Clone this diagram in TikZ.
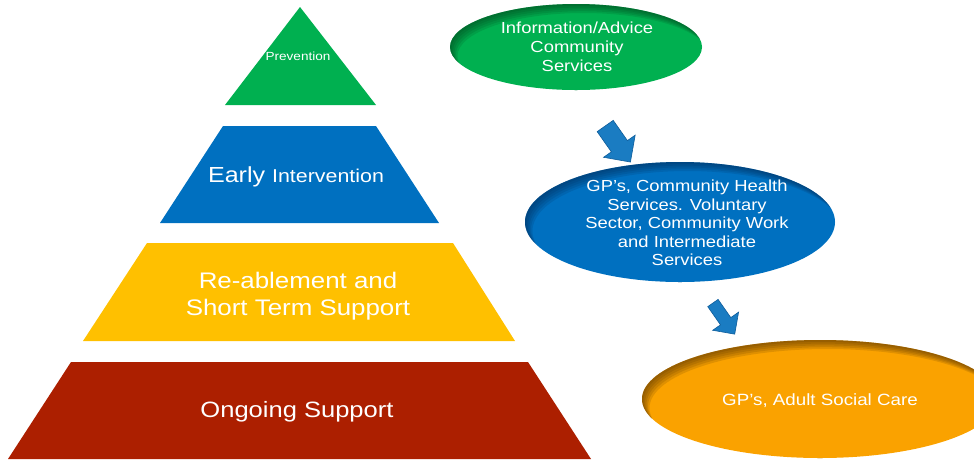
\documentclass[tikz,border=0pt]{standalone}
\usepackage{fontspec}
\setmainfont{Liberation Sans}[FakeStretch=1.15]
\usetikzlibrary{shapes.geometric,shapes.arrows,calc}

\definecolor{pgreen}{HTML}{00B050}
\definecolor{pblue}{HTML}{0070C0}
\definecolor{pyellow}{HTML}{FFC000}
\definecolor{pred}{HTML}{AC1F00}
\definecolor{egreen}{HTML}{00B050}
\definecolor{edgreen}{HTML}{00401A}
\definecolor{eblue}{HTML}{0070C0}
\definecolor{edblue}{HTML}{002A55}
\definecolor{eorange}{HTML}{FAA200}
\definecolor{edorange}{HTML}{4A2A00}
\definecolor{arrowfill}{HTML}{1A7CC2}
\definecolor{arrowedge}{HTML}{0E5C9A}

\begin{document}
\begin{tikzpicture}[x=1pt,y=-1pt,
  lbl/.style={text=white, align=center, inner sep=0pt},
  ell/.style={ellipse, inner sep=0pt},
  % soft inner shadow: stacked crescents along the upper-left rim
  ishadow/.style={path picture={
    \foreach \s in {1,2,3,4,5}{
      \fill[#1, opacity=0.15, even odd rule]
        let \p1=(path picture bounding box.north east),
            \p2=(path picture bounding box.south west) in
        (path picture bounding box.south west) rectangle (path picture bounding box.north east)
        ($(path picture bounding box.center)+(\s*1.5,\s*1.8)$)
        ellipse [x radius={(\x1-\x2)/2}, y radius={(\y1-\y2)/2}];
    }}},
  barrow/.style={single arrow, draw=arrowedge, fill=arrowfill,
    line width=0.6pt, inner xsep=0pt, single arrow tip angle=90,
    rotate=-55, minimum width=0pt}
]
\useasboundingbox (0,0) rectangle (974,459);

% pyramid levels
\fill[pgreen] (300,7) -- (376,105) -- (225,105) -- cycle;
\node[lbl, font=\fontsize{11.8}{13}\selectfont] (prev) at (298,56) {Prevention};

\fill[pblue] (223,126) -- (376,126) -- (439,223) -- (160,223) -- cycle;
\node[lbl] (early) at (296,177)
  {\fontsize{21.8}{24}\selectfont Early \fontsize{18.6}{20}\selectfont Intervention};

\fill[pyellow] (147,243) -- (453,243) -- (515,341) -- (83,341) -- cycle;
\node[lbl, font=\fontsize{22.5}{27}\selectfont] (reab) at (298,296)
  {Re-ablement and\\Short Term Support};

\fill[pred] (71,362) -- (528,362) -- (591,459) -- (8,459) -- cycle;
\node[lbl, font=\fontsize{22.2}{25}\selectfont] (ongo) at (297,412) {Ongoing Support};

% service ellipses
\node[ell, fill=egreen, ishadow=edgreen, minimum width=252pt, minimum height=86pt]
  (info) at (576,47) {};
\node[lbl, font=\fontsize{16}{19}\selectfont] (infot) at (577,47)
  {Information/Advice\\Community\\Services};

\node[ell, fill=eblue, ishadow=edblue, minimum width=310pt, minimum height=120pt]
  (gps) at (680,222) {};
\node[lbl, font=\fontsize{16}{18.5}\selectfont] (gpst) at (687,223)
  {GP’s, Community Health\\Services. Voluntary\\Sector, Community Work\\and Intermediate\\Services};

\node[ell, fill=eorange, ishadow=edorange, minimum width=356pt, minimum height=118pt]
  (asc) at (820,399) {};
\node[lbl, font=\fontsize{16.3}{18}\selectfont] (asct) at (820,401) {GP’s, Adult Social Care};

% block arrows between the ellipses
\node[barrow, minimum height=44pt, inner ysep=9.5pt, single arrow head extend=9.5pt]
  (arrA) at (615,140) {};
\node[barrow, minimum height=38pt, inner ysep=6pt, single arrow head extend=9.5pt]
  (arrB) at (722,316) {};
\end{tikzpicture}
\end{document}
